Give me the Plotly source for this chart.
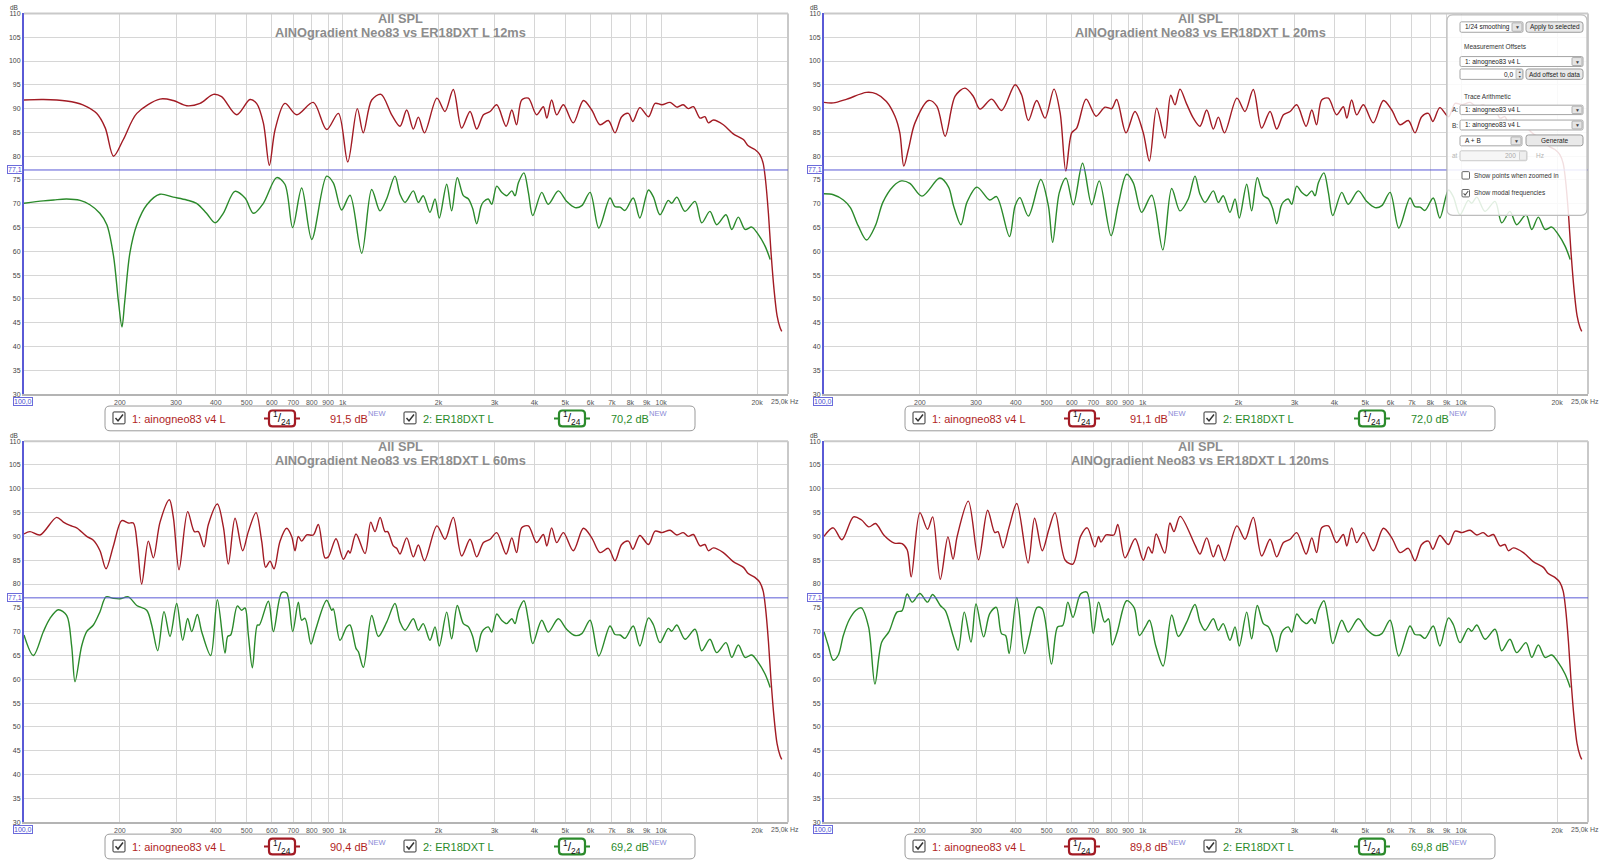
import math
import plotly.graph_objects as go

W, H = 1600, 864
FONT = "Liberation Sans, Arial, sans-serif"

# ---------------- data (frequency Hz, SPL dB) ----------------
HF_RED = [(1514,86.3),(1589,89.7),(1667,85.7),(1729,88.2),(1807,84.9),(1977,92.2),(2096,89.4),(2225,94.0),
          (2364,85.9),(2512,89.4),(2636,85.7),(2767,88.7),(2904,89.4),(3047,90.8),(3260,86.3),(3396,89.7),
          (3516,86.6),(3648,91.8),(3828,92.2),(4064,88.7),(4266,90.4),(4375,88.0),(4529,91.8),(4699,88.7),
          (4932,90.8),(5297,87.0),(5700,91.7),(6053,89.7),(6427,86.6),(6823,87.5),(7161,84.9),(7516,88.3),
          (7887,89.0),(8147,87.3),(8570,90.2),(9120,88.3),(9570,91.1),(10050,90.8),(10666,91.3),(11194,90.3),
          (11722,90.8),(12162,90.0),(12620,90.4),(13243,88.0),(13713,88.3),(14060,87.0),(14588,87.6),
          (15668,86.6),(16830,84.7),(18113,83.5),(18750,82.2),(19680,81.4),(20418,80.3),(20893,78.5),
          (21250,75.0),(21700,68.0),(22100,60.0),(22600,52.0),(23100,46.5),(23600,44.0),(23900,43.2)]

HF_GREEN = [(1514,72.0),(1570,70.3),(1667,72.7),(1729,70.3),(1791,71.7),(1880,68.2),(1950,71.0),(2011,67.0),
            (2122,74.1),(2199,68.5),(2291,75.5),(2393,71.7),(2483,71.0),(2560,69.0),(2636,65.8),(2720,69.5),
            (2767,70.4),(2866,71.0),(2937,69.9),(3047,73.7),(3157,72.4),(3273,71.7),(3396,72.7),(3477,71.7),
            (3562,74.4),(3708,76.5),(3828,72.4),(3952,67.5),(4217,72.4),(4420,69.9),(4754,72.7),(5049,70.5),
            (5364,69.2),(5634,69.6),(5980,72.4),(6370,64.9),(6906,71.2),(7161,69.4),(7431,69.3),(7697,68.6),
            (8170,71.2),(8570,67.0),(9120,72.9),(9443,71.5),(9910,67.7),(10522,70.7),(10786,70.1),(11194,71.4),
            (11880,68.4),(12770,70.5),(13400,66.0),(14220,68.4),(14930,65.6),(15970,67.7),(16650,64.6),
            (17460,67.2),(18330,64.6),(19240,65.1),(20180,63.5),(21180,61.1),(21979,58.3)]

RED_12MS = [(100,91.8),(115,91.9),(136,91.6),(153,90.8),(169,89.0),(180,85.9),(191,80.0),(205,83.5),(226,89.0),
            (267,92.0),(294,91.7),(324,90.6),(357,91.1),(393,93.0),(417,92.5),(465,88.7),(512,91.9),(537,91.1),
            (564,87.0),(589,78.1),(614,85.6),(659,91.1),(718,88.7),(809,91.3),(891,85.6),(970,89.0),(1038,78.8),
            (1112,90.0),(1161,84.9),(1234,91.8),(1320,93.0),(1426,88.7)]
GREEN_12MS = [(100,70.1),(115,70.6),(124,70.8),(136,71.0),(150,70.7),(161,69.8),(173,68.0),(182,65.6),(191,59.0),
              (198,49.3),(203,44.1),(207,49.3),(215,59.7),(226,65.6),(243,69.8),(267,72.0),(294,71.4),(324,70.8),
              (348,70.1),(374,68.0),(398,66.0),(422,68.0),(459,72.6),(494,71.2),(525,68.0),(564,70.1),(621,75.5),
              (659,74.1),(697,65.0),(744,73.3),(800,62.5),(891,75.8),(935,74.4),(993,68.7),(1055,71.8),(1148,59.6),
              (1234,73.0),(1310,68.5),(1374,71.0),(1460,75.8)]

RED_20MS = [(100,91.3),(107,91.2),(118,92.0),(136,93.4),(146,93.1),(157,91.5),(167,88.4),(173,84.9),(178,77.9),
            (184,81.4),(193,87.0),(213,91.7),(226,90.5),(240,84.2),(258,92.6),(277,94.3),(294,92.6),(309,89.9),
            (336,92.0),(361,89.6),(398,95.0),(417,92.9),(438,87.5),(465,91.7),(494,88.0),(527,94.1),(551,89.1),
            (574,76.9),(599,84.9),(621,85.9),(665,92.0),(714,88.4),(762,90.3),(800,90.0),(829,91.9),(887,84.9),
            (946,89.4),(1005,84.9),(1050,79.0),(1107,90.1),(1175,83.8),(1225,92.8),(1264,90.8),(1310,94.1),
            (1374,91.0),(1443,88.0)]
GREEN_20MS = [(100,72.1),(107,71.9),(115,70.8),(121,69.2),(128,65.4),(136,62.4),(145,65.4),(153,70.3),(165,73.7),
              (175,74.8),(186,74.3),(203,71.6),(231,75.4),(246,73.5),(255,69.6),(269,65.6),(281,70.3),(302,73.5),
              (331,70.8),(348,71.5),(382,63.1),(398,69.6),(412,71.3),(438,67.4),(479,75.1),(506,69.6),(522,61.9),
              (548,72.4),(575,75.4),(606,69.8),(648,78.5),(692,69.8),(731,74.8),(796,63.3),(839,69.9),(891,76.2),
              (935,74.4),(993,68.2),(1068,71.8),(1157,60.3),(1234,73.2),(1310,68.5),(1391,71.0),(1460,75.8)]

RED_60MS = [(100,90.5),(104.4,91.0),(112.3,90.3),(126.6,94.0),(132.9,93.0),(139.4,92.3),(146.3,91.8),(157.3,90.0),
            (165.1,89.2),(173.2,87.0),(180.9,83.2),(190.8,88.0),(202.6,93.3),(212.6,92.8),(220.4,92.8),(226.9,88.0),
            (234.1,80.0),(245.6,89.0),(254.7,85.5),(267.3,93.0),(285.9,97.7),(294.3,94.0),(306.6,83.0),(326.4,95.2),
            (342.5,91.0),(352.6,91.0),(367.3,87.8),(379,92.5),(404.5,96.8),(422.4,92.0),(437.9,84.2),(459.5,93.8),
            (485.7,87.0),(506,91.0),(534.9,95.0),(557.2,89.0),(573.5,83.5),(591.8,84.8),(609.2,83.2),(636.2,89.0),
            (667.6,91.7),(692.1,90.0),(709,87.0),(726.1,90.0),(743.8,89.0),(771.3,90.3),(809.3,90.3),(839,92.5),
            (880.5,85.5),(902,85.7),(953.5,89.5),(1005.3,85.2),(1042.3,87.0),(1055,86.5),(1101.7,90.5),
            (1175.9,86.4),(1225,93.0),(1264,91.0),(1311,94.0),(1359,91.0),(1385,91.0),(1443,88.0),(1478,87.5)]
GREEN_60MS = [(100,69.3),(107,65.0),(115,70.0),(120.7,72.8),(128.2,74.6),(136.1,73.4),(141.1,67.0),(144.6,59.5),
              (151.7,67.0),(157.3,70.0),(165.1,71.4),(173.2,74.2),(180.9,77.3),(190.8,77.0),(200.1,76.9),(212.6,77.3),
              (225.8,75.5),(242.7,74.5),(251.6,71.4),(262.8,66.0),(275.1,74.2),(287.3,69.0),(301.5,75.9),(314.8,68.2),
              (326.4,72.8),(336,70.0),(350,73.6),(361.2,70.0),(385.4,65.0),(404.5,76.7),(427.5,65.5),(435.9,69.0),
              (445.4,69.3),(467.3,75.4),(482.2,74.5),(494,75.0),(506,69.3),(520.9,62.4),(540.1,71.4),(548,71.4),
              (584.7,76.4),(606.3,70.0),(643.9,78.2),(667.6,78.1),(697.2,70.0),(726.1,76.2),(743.8,72.4),(762.1,72.8),
              (795.8,67.4),(819.1,70.0),(891.2,76.6),(924,74.5),(935.2,74.8),(981.3,68.2),(1029.9,71.0),(1055,71.4),
              (1101.7,66.5),(1120.4,65.8),(1161.7,62.5),(1234,73.4),(1295,69.0),(1375,72.0),(1460,75.9)]

RED_120MS = [(100,90.0),(106.9,91.8),(113.8,89.3),(123.8,94.1),(130.9,93.5),(138.3,92.0),(145.1,92.7),(154.5,90.2),
             (166.3,88.6),(175.8,88.5),(182.4,87.2),(187.8,81.5),(200,95.0),(211.3,91.5),(219.3,94.1),(231.7,81.0),
             (244.9,89.9),(254.1,85.2),(261.8,90.0),(283.8,97.4),(305.5,85.1),(326.3,95.5),(343.6,90.8),(351.6,91.0),
             (364.8,87.6),(381.2,92.0),(402.8,96.9),(437.2,84.4),(458.1,93.8),(484.2,87.0),(508.1,91.5),(531,95.0),
             (571.7,85.0),(604.5,84.2),(638.7,90.0),(670,91.8),(708,87.8),(727.5,90.0),(740,88.8),(767.8,90.3),
             (812.3,90.3),(836,92.5),(880.6,85.5),(947.8,89.5),(1005,85.0),(1043,87.8),(1071,86.5),(1103,90.5),
             (1174,86.5),(1218,92.8),(1254,91.0),(1312,94.2),(1465,88.0)]
GREEN_120MS = [(100,70.0),(103,67.2),(106.9,64.0),(110.9,65.1),(115,69.2),(120,72.5),(126,74.5),(131,75.0),(138,71.0),
               (144.5,59.0),(151.7,67.8),(160,70.0),(169.4,74.1),(175.8,74.4),(182.4,77.9),(189.2,76.2),(200,78.0),
               (211.3,76.2),(219.3,77.8),(231.7,75.5),(240.4,74.4),(254.1,69.2),(263.6,66.1),(275.6,74.1),(289.3,67.8),
               (300,75.8),(317,68.9),(331.3,73.8),(347.5,75.1),(360.6,69.6),(371.5,69.2),(381.2,65.4),(402.8,77.2),
               (425.9,65.4),(441.6,69.2),(467,75.1),(484.2,74.8),(517.6,63.2),(541,71.0),(561.4,71.3),(582.5,76.2),
               (604.5,73.0),(638.7,77.9),(668.3,78.3),(700,69.6),(727.5,76.2),(760,72.0),(782,72.7),(803,67.2),
               (833,70.0),(891,76.5),(941,75.0),(977,69.2),(1020,71.0),(1051,72.4),(1100,67.0),(1160,62.8),
               (1234,73.5),(1295,69.0),(1375,72.0),(1460,75.7)]

GATES = ["12ms", "20ms", "60ms", "120ms"]
RED_LF = [RED_12MS, RED_20MS, RED_60MS, RED_120MS]
GREEN_LF = [GREEN_12MS, GREEN_20MS, GREEN_60MS, GREEN_120MS]
RED_LEVEL = ["91,5", "91,1", "90,4", "89,8"]
GREEN_LEVEL = ["70,2", "72,0", "69,2", "69,8"]
REF_LEVEL = 77.1
X_TICKS = [200, 300, 400, 500, 600, 700, 800, 900, 1000, 2000, 3000, 4000, 5000, 6000, 7000, 8000, 9000, 10000, 20000]
X_TICKTEXT = ["200", "300", "400", "500", "600", "700", "800", "900", "1k", "2k", "3k", "4k", "5k", "6k", "7k",
              "8k", "9k", "10k", "20k"]
Y_TICKS = list(range(30, 111, 5))

# ---------------- styling ----------------
RED = "#a21b24"
GREEN = "#2b8a2b"
RED_TXT = "#b01e1e"
GREEN_TXT = "#2a8a2a"
GRID = "#d6d6d6"
BLUE = "#5a5ad6"


def px(x):
    return x / W


def py(y):
    return 1 - y / H


fig = go.Figure()
shapes = []
annos = []


def rrect(x0, y0, x1, y1, r, fill, line, lw=1, layer="above"):
    pts = [("M", x0 + r, y0), ("L", x1 - r, y0), ("Q", x1, y0, x1, y0 + r), ("L", x1, y1 - r),
           ("Q", x1, y1, x1 - r, y1), ("L", x0 + r, y1), ("Q", x0, y1, x0, y1 - r), ("L", x0, y0 + r),
           ("Q", x0, y0, x0 + r, y0)]
    s = ""
    for p in pts:
        if p[0] == "Q":
            s += f"Q{px(p[1]):.5f},{py(p[2]):.5f} {px(p[3]):.5f},{py(p[4]):.5f} "
        else:
            s += f"{p[0]}{px(p[1]):.5f},{py(p[2]):.5f} "
    s += "Z"
    shapes.append(dict(type="path", xref="paper", yref="paper", path=s, fillcolor=fill,
                       line=dict(color=line, width=lw), layer=layer))


def pline(x0, y0, x1, y1, color, lw=1):
    shapes.append(dict(type="line", xref="paper", yref="paper", x0=px(x0), y0=py(y0), x1=px(x1), y1=py(y1),
                       line=dict(color=color, width=lw), layer="above"))


def ppath(points, color, lw=1.2):
    s = "M" + " L".join(f"{px(a):.5f},{py(b):.5f}" for a, b in points)
    shapes.append(dict(type="path", xref="paper", yref="paper", path=s, line=dict(color=color, width=lw),
                       layer="above"))


def txt(x, y, s, size, color, anchor="left", bold=False, bg=None, border=None):
    d = dict(x=px(x), y=py(y), xref="paper", yref="paper", text=(f"<b>{s}</b>" if bold else s),
             showarrow=False, xanchor=anchor, yanchor="middle",
             font=dict(family=FONT, size=size, color=color))
    if bg:
        d["bgcolor"] = bg
    if border:
        d["bordercolor"] = border
        d["borderwidth"] = 1
        d["borderpad"] = 0
    annos.append(d)


def checkbox(x, y, checked=True, size=12, color="#333333", lw=1):
    rrect(x, y, x + size, y + size, 1, "white", color, lw)
    if checked:
        k = size / 12
        ppath([(x + 2.5 * k, y + 6.2 * k), (x + 5 * k, y + 9 * k), (x + 10 * k, y + 2.5 * k)], color, 1.2 * k + 0.3)


for i in range(4):
    col, row = i % 2, i // 2
    left = 24 + 800 * col
    right = 788 + 800 * col
    top = 9.5 + 431.2 * row
    bottom = 393.3 + 431.6 * row
    sfx = "" if i == 0 else str(i + 1)
    xa, ya = "x" + sfx, "y" + sfx

    red = RED_LF[i] + HF_RED
    green = GREEN_LF[i] + HF_GREEN
    fig.add_trace(go.Scatter(x=[p[0] for p in green], y=[p[1] for p in green], mode="lines",
                             line=dict(color=GREEN, width=1.4, shape="spline", smoothing=0.9),
                             xaxis=xa, yaxis=ya, showlegend=False, hoverinfo="skip"))
    fig.add_trace(go.Scatter(x=[p[0] for p in red], y=[p[1] for p in red], mode="lines",
                             line=dict(color=RED, width=1.4, shape="spline", smoothing=0.9),
                             xaxis=xa, yaxis=ya, showlegend=False, hoverinfo="skip"))

    fig.update_layout(**{
        "xaxis" + sfx: dict(type="log", range=[2, math.log10(25000)], domain=[px(left), px(right)],
                            anchor=ya, tickvals=X_TICKS, ticktext=X_TICKTEXT, tickangle=0, showgrid=True,
                            gridcolor=GRID, gridwidth=1, showline=True, linecolor="#b4b4b4", linewidth=2,
                            ticks="", zeroline=False, fixedrange=True,
                            tickfont=dict(family=FONT, size=7, color="#555555")),
        "yaxis" + sfx: dict(range=[30, 110], domain=[py(bottom), py(top)], anchor=xa, tickvals=Y_TICKS,
                            showgrid=True, gridcolor=GRID, gridwidth=1, showline=True, linecolor=BLUE,
                            linewidth=2, ticks="", zeroline=False, fixedrange=True,
                            tickfont=dict(family=FONT, size=7, color="#444444")),
    })

    # top / right border of the plot area
    pline(left, top, right, top, "#c9c9c9", 2)
    pline(right, top, right, bottom, "#c9c9c9", 2)
    # reference line 77.1
    shapes.append(dict(type="line", xref=xa + " domain", yref=ya, x0=0, x1=1, y0=REF_LEVEL, y1=REF_LEVEL,
                       line=dict(color=BLUE, width=1), layer="above"))
    y771 = top + (110 - REF_LEVEL) * (bottom - top) / 80
    txt(left - 9, y771, "77,1", 7, "#4b4bd0", "center", bg="white", border="#6b6bdb")
    txt(left - 10, top - 6, "dB", 6.5, "#444444", "center")
    txt(left - 1, bottom + 7, "100,0", 7, "#4b4bd0", "center", bg="white", border="#6b6bdb")
    txt(right - 3, bottom + 7, "25,0k Hz", 7, "#555555", "center")

    # titles
    cx = 400 + 800 * col
    txt(cx, top + 5.5, "All SPL", 12.8, "#8c8c8c", "center", bold=True)
    txt(cx, top + 19.2, f"AINOgradient Neo83 vs ER18DXT L {GATES[i]}", 12.8, "#8c8c8c", "center", bold=True)

    # legend box
    bx0 = left + 81
    by0 = bottom + 12
    by1 = by0 + 25
    cy = (by0 + by1) / 2
    rrect(bx0, by0, left + 671, by1, 5, "white", "#9a9a9a", 1)
    for (off_cb, off_txt, off_badge, off_val, label, color, tcolor, level) in [
        (8, 25, 177, 223, "1: ainogneo83 v4 L", RED, RED_TXT, RED_LEVEL[i]),
        (299, 316, 467, 504, "2: ER18DXT L", GREEN, GREEN_TXT, GREEN_LEVEL[i]),
    ]:
        checkbox(bx0 + off_cb, cy - 6.5)
        txt(bx0 + off_txt, cy + 0.5, label, 11, tcolor, "left")
        bc = bx0 + off_badge
        pline(bc - 18, cy, bc + 18, cy, color, 2)
        rrect(bc - 13, cy - 8, bc + 13, cy + 8, 3.5, "white", color, 2.2)
        txt(bc, cy, "<sup>1</sup>/<sub>24</sub>", 12, "#111111", "center")
        txt(bx0 + off_val, cy + 0.5, f"{level} dB", 11, tcolor, "left")
        txt(bx0 + off_val + 37.5, cy - 4.5, "NEW", 7.5, "#8a8ad6", "left")

# ---------------- control overlay (top-right) ----------------
rrect(1447, 11, 1587, 213, 6, "rgba(255,255,255,0.86)", "#bdbdbd", 1.2)
FS = 6.5


def dropdown(x0, y0, x1, y1, label):
    rrect(x0, y0, x1, y1, 1.5, "white", "#a5a5a5", 1)
    rrect(x1 - 11, y0 + 1, x1 - 1, y1 - 1, 1, "#e4e4e4", "#b0b0b0", 1)
    txt(x1 - 6, (y0 + y1) / 2, "▼", 5, "#444444", "center")
    txt(x0 + 2.5, (y0 + y1) / 2, label, FS, "#222222", "left")


def button(x0, y0, x1, y1, label):
    rrect(x0, y0, x1, y1, 2.5, "#e9e9e9", "#9c9c9c", 1)
    txt((x0 + x1) / 2, (y0 + y1) / 2, label, FS, "#222222", "center")


dropdown(1460, 18, 1523, 28.5, "1/24 smoothing")
button(1526, 18, 1583, 28.5, "Apply to selected")
txt(1462, 43, "Measurement Offsets", FS, "#333333")
dropdown(1460, 53, 1583, 63, "1: ainogneo83 v4 L")
rrect(1460, 65.5, 1523, 76, 1.5, "white", "#a5a5a5", 1)
txt(1515, 71, "0,0", FS, "#222222", "right")
rrect(1516, 66, 1522.5, 75.5, 1, "#e6e6e6", "#b0b0b0", 0.8)
txt(1519.3, 68.5, "▲", 3.5, "#444444", "center")
txt(1519.3, 73.2, "▼", 3.5, "#444444", "center")
button(1526, 65.5, 1583, 76, "Add offset to data")
txt(1462, 93, "Trace Arithmetic", FS, "#333333")
txt(1450, 106.5, "A:", FS, "#333333")
dropdown(1460, 102, 1583, 111.5, "1: ainogneo83 v4 L")
txt(1450, 122, "B:", FS, "#333333")
dropdown(1460, 117, 1583, 127, "1: ainogneo83 v4 L")
dropdown(1460, 133, 1522, 143, "A + B")
button(1526, 132, 1583, 143, "Generate")
txt(1450, 153, "at", FS, "#b5b5b5")
rrect(1460, 148, 1527, 158, 1.5, "#f6f6f6", "#c9c9c9", 1)
txt(1518, 153, "200", FS, "#aaaaaa", "right")
rrect(1519.5, 148.5, 1526.5, 157.5, 1, "#eeeeee", "#c9c9c9", 0.8)
txt(1534, 153, "Hz", FS, "#b5b5b5")
checkbox(1462, 169, checked=False, size=7.5, color="#555555", lw=0.9)
txt(1472, 173, "Show points when zoomed in", FS, "#333333")
checkbox(1462, 187, checked=True, size=7.5, color="#555555", lw=0.9)
txt(1472, 191, "Show modal frequencies", FS, "#333333")

fig.update_layout(width=W, height=H, margin=dict(l=0, r=0, t=0, b=0), paper_bgcolor="white",
                  plot_bgcolor="white", shapes=shapes, annotations=annos, showlegend=False,
                  font=dict(family=FONT))
fig.write_html("out.html", config={"displayModeBar": False, "staticPlot": True},
               post_script="document.body.style.margin='0';document.body.style.padding='0';"
                           "document.body.style.overflow='hidden';"
                           "document.documentElement.style.overflow='hidden';")
